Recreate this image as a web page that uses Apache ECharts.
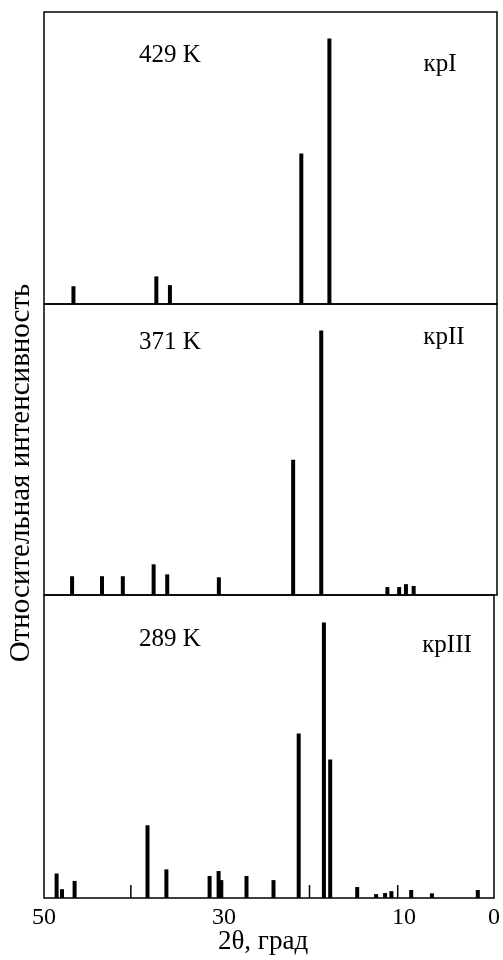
<!DOCTYPE html>
<html>
<head>
<meta charset="utf-8">
<script src="https://cdn.jsdelivr.net/npm/echarts@6/dist/echarts.min.js"></script>
<style>
  html, body { margin: 0; padding: 0; background: #fff; }
  #chart { width: 503px; height: 960px; }
</style>
</head>
<body>
<div id="chart"></div>
<script>
// Diffraction lines: 2θ positions (deg) and relative intensities (strongest = 100)
const angles429 = [46.75, 37.6, 36.1, 21.6, 18.5];
const intens429 = [6.7, 10.4, 7.1, 56.7, 100];

const angles371 = [46.9, 43.6, 41.3, 37.9, 36.4, 30.7, 22.5, 19.4, 12.1, 10.8, 10.05, 9.2];
const intens371 = [7.1, 7.1, 7.1, 11.6, 7.8, 6.7, 51.1, 100, 3.0, 3.0, 4.1, 3.4];

const angles289 = [48.6, 48.0, 46.6, 38.5, 36.4, 31.6, 30.6, 30.3, 27.5, 24.5, 21.7, 18.9, 18.2, 15.2, 13.1, 12.1, 11.4, 9.2, 6.9, 1.8];
const intens289 = [8.9, 3.2, 6.2, 26.4, 10.4, 8.0, 9.8, 6.5, 8.0, 6.5, 59.7, 100, 50.3, 4.0, 1.4, 1.8, 2.5, 2.9, 1.7, 2.9];

// weak (thin) lines at 289 K
const anglesWeak289 = [40.35, 20.5, 10.7];
const intensWeak289 = [4.7, 4.7, 4.7];

const temperatures = ['429 K', '371 K', '289 K'];
const phases = ['крI', 'крII', 'крIII'];
const tickLabels = [50, 30, 10, 0];

const FONT = 'Liberation Serif';
const pairs = (a, b) => a.map((v, i) => [v, b[i]]);

// vertical stick of fixed pixel width from the baseline up to the intensity
function peaks(width) {
  return function (params, api) {
    const x = api.value(0), y = api.value(1);
    const top = api.coord([x, y]);
    const base = api.coord([x, 0]);
    return {
      type: 'rect',
      shape: { x: top[0] - width / 2, y: top[1], width: width, height: base[1] - top[1] },
      style: { fill: '#000' }
    };
  };
}

const grids = [
  { top: 12, height: 292 },
  { top: 304, height: 291 },
  { top: 595, height: 303 }
].map(g => Object.assign(g, {
  left: 44, width: 453, show: true, borderColor: '#000', borderWidth: 1.5, backgroundColor: 'transparent'
}));

const xAxes = [0, 1, 2].map(i => ({
  type: 'value', gridIndex: i, min: 0, max: 50, interval: 10, inverse: true,
  axisLine: { show: false }, axisTick: { show: false }, splitLine: { show: false },
  axisLabel: {
    show: i === 2, margin: 8, color: '#000', fontFamily: FONT, fontSize: 24,
    formatter: v => tickLabels.includes(v) ? String(v) : ''
  }
}));

const yAxes = [0, 1, 2].map(i => ({
  type: 'value', gridIndex: i, min: 0, max: 110,
  axisLine: { show: false }, axisTick: { show: false }, splitLine: { show: false },
  axisLabel: { show: false }
}));

const series = [
  { type: 'custom', xAxisIndex: 0, yAxisIndex: 0, renderItem: peaks(4), data: pairs(angles429, intens429) },
  { type: 'custom', xAxisIndex: 1, yAxisIndex: 1, renderItem: peaks(4), data: pairs(angles371, intens371) },
  { type: 'custom', xAxisIndex: 2, yAxisIndex: 2, renderItem: peaks(4), data: pairs(angles289, intens289) },
  { type: 'custom', xAxisIndex: 2, yAxisIndex: 2, renderItem: peaks(1.5), data: pairs(anglesWeak289, intensWeak289) }
];

const labelStyle = { fill: '#000', fontFamily: FONT, fontSize: 25, textAlign: 'center', textVerticalAlign: 'middle' };
const tempY = [55, 342, 639];
const phaseX = [440, 444, 447];
const phaseY = [64, 337, 645];
const graphic = [];
temperatures.forEach((t, i) => {
  graphic.push({ type: 'text', x: 170, y: tempY[i], style: Object.assign({ text: t }, labelStyle) });
  graphic.push({ type: 'text', x: phaseX[i], y: phaseY[i], style: Object.assign({ text: phases[i] }, labelStyle) });
});
// y-axis title, reading bottom to top
graphic.push({
  type: 'text', x: 21, y: 473, rotation: Math.PI / 2,
  style: Object.assign({ text: 'Относительная интенсивность' }, labelStyle, { fontSize: 29 })
});
// x-axis title
graphic.push({
  type: 'text', x: 263, y: 942,
  style: Object.assign({ text: '2θ, град' }, labelStyle, { fontSize: 27 })
});

const chart = echarts.init(document.getElementById('chart'), null, { renderer: 'canvas' });
chart.setOption({
  animation: false,
  backgroundColor: '#fff',
  grid: grids,
  xAxis: xAxes,
  yAxis: yAxes,
  series: series,
  graphic: graphic
});
</script>
</body>
</html>
